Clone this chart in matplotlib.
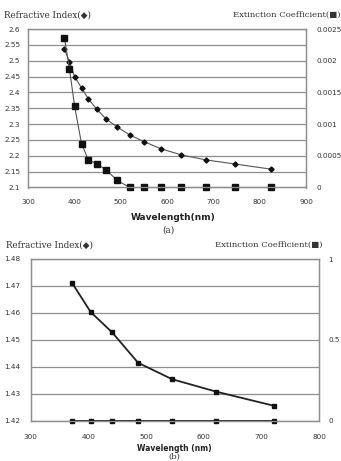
import matplotlib
matplotlib.use("Agg")
import matplotlib.pyplot as plt

# ---- data (a) ----
wl_a = [378, 389, 400, 415, 430, 448, 468, 492, 519, 551, 587, 630, 684, 747, 824]
n_a = [2.536, 2.497, 2.450, 2.414, 2.379, 2.347, 2.316, 2.291, 2.266, 2.244, 2.222, 2.203, 2.187, 2.174, 2.158]
k_a = [0.002363, 0.001864, 0.001285, 0.000691, 0.000434, 0.000375, 0.000276, 0.000114, 0, 0, 0, 0, 0, 0, 0]
xt_a = [300, 400, 500, 600, 700, 800, 900]
nt_a = [2.1, 2.15, 2.2, 2.25, 2.3, 2.35, 2.4, 2.45, 2.5, 2.55, 2.6]
nl_a = ["2.1", "2.15", "2.2", "2.25", "2.3", "2.35", "2.4", "2.45", "2.5", "2.55", "2.6"]
kt_a = [0, 0.0005, 0.001, 0.0015, 0.002, 0.0025]
kl_a = ["0", "0.0005", "0.001", "0.0015", "0.002", "0.0025"]

# ---- data (b) ----
wl_b = [372, 404, 441, 486, 545, 621, 722]
n_b = [1.4710, 1.4603, 1.4528, 1.4415, 1.4354, 1.4308, 1.4255]
k_b = [0, 0, 0, 0, 0, 0, 0]
xt_b = [300, 400, 500, 600, 700, 800]
nt_b = [1.42, 1.43, 1.44, 1.45, 1.46, 1.47, 1.48]
nl_b = ["1.42", "1.43", "1.44", "1.45", "1.46", "1.47", "1.48"]
kt_b = [0, 0.5, 1]
kl_b = ["0", "0.5", "1"]

W, H = 341, 461
fig = plt.figure(figsize=(W / 100, H / 100), dpi=100)

GRID = "#8f8f8f"
TXT = "#333333"
LINE = "#555555"
FS = 5.2


def rect(l, t, r, b):
    return [l / W, 1 - b / H, (r - l) / W, (b - t) / H]


def style(ax, ax2, xt, nt, nl, kt, kl, ypad, xpad, rpad):
    ax.set_xticks(xt)
    ax.set_xticklabels([str(v) for v in xt])
    ax.set_yticks(nt)
    ax.set_yticklabels(nl)
    ax2.set_yticks(kt)
    ax2.set_yticklabels(kl)
    ax.grid(axis="y", color=GRID, lw=0.9)
    ax.set_axisbelow(True)
    for a in (ax, ax2):
        for s in a.spines.values():
            s.set_color(GRID)
            s.set_linewidth(0.9)
    ax.tick_params(axis="both", length=0, labelsize=FS, colors=TXT)
    ax.tick_params(axis="y", pad=ypad)
    ax.tick_params(axis="x", pad=xpad)
    ax2.tick_params(axis="y", length=0, labelsize=FS, colors=TXT, pad=rpad)


# ---- panel (a) ----
ax = fig.add_axes(rect(28.3, 29, 306, 187.5))
ax2 = ax.twinx()
ax.set_xlim(300, 900)
ax.set_ylim(2.1, 2.6)
ax2.set_ylim(0, 0.0025)
ax.plot(wl_a, n_a, color=LINE, lw=0.8, marker="D", ms=2.6, mfc="#111111", mec="#111111", clip_on=False)
ax2.plot(wl_a, k_a, color=LINE, lw=0.8, marker="s", ms=3.9, mfc="#111111", mec="#111111", clip_on=False)
style(ax, ax2, xt_a, nt_a, nl_a, kt_a, kl_a, 5.8, 8.6, 7.7)

fig.text(4 / W, 1 - 15 / H, "Refractive Index(◆)", family="DejaVu Serif", fontsize=6.3, color=TXT, va="center", ha="left")
fig.text(341 / W, 1 - 15 / H, "Extinction Coefficient(■)", family="DejaVu Serif", fontsize=6.1, color=TXT, va="center", ha="right")
fig.text(173 / W, 1 - 217 / H, "Wavelength(nm)", fontsize=6.5, fontweight="bold", color="#222222", ha="center", va="center")
fig.text(168 / W, 1 - 230 / H, "(a)", family="DejaVu Serif", fontsize=6.3, color=TXT, ha="center", va="center")

# ---- panel (b) ----
bx = fig.add_axes(rect(30.7, 259, 319.3, 420.7))
bx2 = bx.twinx()
bx.set_xlim(300, 800)
bx.set_ylim(1.42, 1.48)
bx2.set_ylim(0, 1)
bx.plot(wl_b, n_b, color="#222222", lw=1.3, marker="s", ms=2.2, mfc="#111111", mec="#111111", clip_on=False)
bx2.plot(wl_b, k_b, color="#222222", lw=1.3, marker="s", ms=2.2, mfc="#111111", mec="#111111", clip_on=False)
style(bx, bx2, xt_b, nt_b, nl_b, kt_b, kl_b, 7.2, 9.6, 6.3)

fig.text(6 / W, 1 - 245 / H, "Refractive Index(◆)", family="DejaVu Serif", fontsize=6.3, color=TXT, va="center", ha="left")
fig.text(323 / W, 1 - 245 / H, "Extinction Coefficient(■)", family="DejaVu Serif", fontsize=6.1, color=TXT, va="center", ha="right")
fig.text(174.5 / W, 1 - 448 / H, "Wavelength (nm)", fontsize=5.5, fontweight="bold", color="#222222", ha="center", va="center")
fig.text(174 / W, 1 - 456.5 / H, "(b)", family="DejaVu Serif", fontsize=6.0, color=TXT, ha="center", va="center")

fig.savefig("out.png", dpi=100)
